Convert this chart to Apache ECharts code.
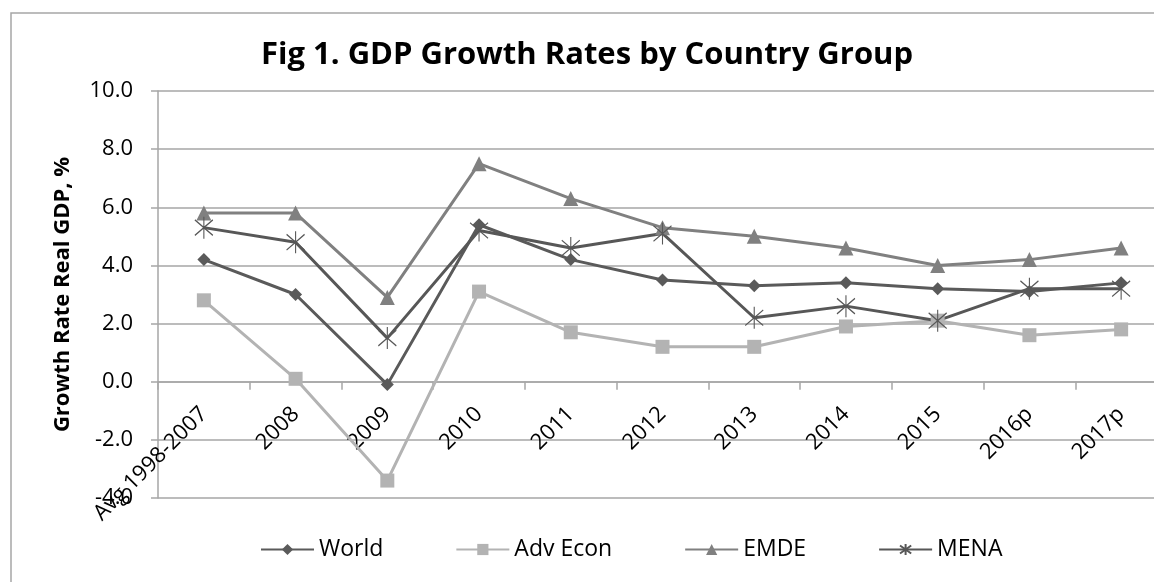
<!DOCTYPE html>
<html>
<head>
<meta charset="utf-8">
<script src="https://cdn.jsdelivr.net/npm/echarts@6/dist/echarts.min.js"></script>
<style>
html,body{margin:0;padding:0;background:#fff;}
#c{width:1154px;height:582px;}
</style>
</head>
<body>
<div id="c"></div>
<script>
const categories = ['Avg 1998-2007','2008','2009','2010','2011','2012','2013','2014','2015','2016p','2017p'];
const world   = [4.2, 3.0, -0.1, 5.4, 4.2, 3.5, 3.3, 3.4, 3.2, 3.1, 3.4];
const advEcon = [2.8, 0.1, -3.4, 3.1, 1.7, 1.2, 1.2, 1.9, 2.1, 1.6, 1.8];
const emde    = [5.8, 5.8, 2.9, 7.5, 6.3, 5.3, 5.0, 4.6, 4.0, 4.2, 4.6];
const mena    = [5.3, 4.8, 1.5, 5.2, 4.6, 5.1, 2.2, 2.6, 2.1, 3.2, 3.2];
const seriesNames = ['World','Adv Econ','EMDE','MENA'];
const titleText = 'Fig 1. GDP Growth Rates by Country Group';
const yAxisName = 'Growth Rate Real GDP, %';

const FONT = '"Open Sans", "Noto Sans", sans-serif';
const asterisk = 'path://M0,-10L0,10M-7.07,-7.07L7.07,7.07M-7.07,7.07L7.07,-7.07';
const Y_MIN = -4, Y_MAX = 10, GRID_H = 407;

function mkSeries(name, data, color, symbol, size, extraItem) {
  return {
    name: name, type: 'line', data: data,
    symbol: symbol, symbolSize: size,
    lineStyle: { color: color, width: 3 },
    itemStyle: Object.assign({ color: color }, extraItem || {}),
    emphasis: { disabled: true },
    animation: false
  };
}

const chart = echarts.init(document.getElementById('c'), null, { renderer: 'canvas' });
chart.setOption({
  backgroundColor: '#fff',
  animation: false,
  textStyle: { fontFamily: FONT },
  title: {
    text: titleText, left: 256, top: 35,
    textStyle: { fontFamily: FONT, fontWeight: 'bold', fontSize: 31, color: '#000' }
  },
  graphic: [{
    type: 'rect', silent: true,
    shape: { x: 11, y: 13, width: 1300, height: 700 },
    style: { fill: 'none', stroke: '#a6a6a6', lineWidth: 1.5 }
  }],
  legend: {
    data: seriesNames, left: 255, top: 533,
    itemWidth: 53, itemHeight: 14, itemGap: 72,
    textStyle: { fontFamily: FONT, fontSize: 23, color: '#000' }
  },
  grid: { left: 158, top: 91, width: 1009, height: GRID_H, containLabel: false, outerBoundsMode: 'none' },
  xAxis: {
    type: 'category', data: categories, boundaryGap: true,
    position: 'bottom',
    offset: -GRID_H * (0 - Y_MIN) / (Y_MAX - Y_MIN),
    axisLine: { onZero: false, lineStyle: { color: '#a6a6a6', width: 1.5 } },
    axisTick: { show: true, length: 8, lineStyle: { color: '#a6a6a6', width: 1.5 } },
    axisLabel: { rotate: 45, margin: 29, fontFamily: FONT, fontSize: 22, color: '#000', interval: 0 },
    splitLine: { show: false }
  },
  yAxis: {
    type: 'value', min: Y_MIN, max: Y_MAX, interval: 2,
    name: yAxisName, nameLocation: 'middle', nameGap: 84,
    nameTextStyle: { fontFamily: FONT, fontWeight: 'bold', fontSize: 22, color: '#000' },
    axisLine: { show: true, lineStyle: { color: '#a6a6a6', width: 1.5 } },
    axisTick: { show: true, length: 7, lineStyle: { color: '#a6a6a6', width: 1.5 } },
    axisLabel: { margin: 25, fontFamily: FONT, fontSize: 22, color: '#000', formatter: v => v.toFixed(1) },
    splitLine: { show: true, lineStyle: { color: '#a6a6a6', width: 1.5 } }
  },
  series: [
    mkSeries('World', world, '#5a5a5a', 'diamond', 13),
    mkSeries('Adv Econ', advEcon, '#b3b3b3', 'rect', 14),
    mkSeries('EMDE', emde, '#808080', 'triangle', 15),
    mkSeries('MENA', mena, '#575757', asterisk, [18, 22], { borderColor: '#575757', borderWidth: 1.2 })
  ]
});
</script>
</body>
</html>
